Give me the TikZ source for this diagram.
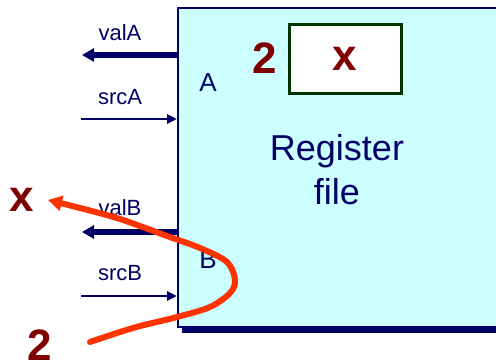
\documentclass[tikz,border=0pt]{standalone}
\usepackage{fontspec}
\setmainfont{Liberation Sans}
\usetikzlibrary{arrows.meta,positioning,calc}
\definecolor{navy}{RGB}{0,0,102}
\definecolor{rfcyan}{RGB}{204,255,255}
\definecolor{darkred}{RGB}{128,0,0}
\definecolor{darkgreen}{RGB}{0,51,0}
\definecolor{hotred}{RGB}{255,51,0}

\begin{document}
\begin{tikzpicture}[x=1pt,y=-1pt,>=Latex,every node/.style={inner sep=0pt,text=navy}]
\tikzstyle{rf}=[draw=navy,line width=1.5pt,fill=rfcyan,minimum width=400pt,minimum height=319pt,anchor=north west]
\tikzstyle{reg}=[draw=darkgreen,line width=3pt,fill=white,minimum width=112pt,minimum height=69pt]
\tikzstyle{lbl}=[font=\fontsize{22}{26}\selectfont]
\tikzstyle{port}=[font=\fontsize{26}{30}\selectfont]
\tikzstyle{big}=[font=\fontsize{44}{48}\selectfont\bfseries,text=darkred]
\tikzstyle{val}=[navy,line width=5.5pt,-{Triangle[length=12pt,width=13pt]}]
\tikzstyle{src}=[navy,line width=2.5pt,-{Triangle[length=10pt,width=9pt]}]
\tikzstyle{hot}=[hotred,line width=6pt,line cap=round,-{Triangle[length=14pt,width=15pt]}]
\useasboundingbox (0,0) rectangle (496,364);
\clip (0,0) rectangle (496,364);
% register file with its shadow
\fill[navy] (182,14) rectangle (600,333);
\node[rf] (rf) at (177,7) {};
\node[reg] (reg) at (345,58.5) {};
\node[big] (regx) at (reg) {x};
\node[big,left=10pt of reg] (regnum) {2};
\node[font=\fontsize{36}{44}\selectfont,align=center] (title) at (337,170) {Register\\file};
\node[port] (pa) at (208,83) {A};
\node[port] (pb) at (208,260) {B};
% ports
\coordinate (valAend) at (82,55);
\coordinate (srcAbeg) at (81,119);
\coordinate (valBend) at (82,232);
\coordinate (srcBbeg) at (81,296);
\draw[val] (valAend -| rf.west) -- (valAend);
\draw[src] (srcAbeg) -- (srcAbeg -| rf.west);
\draw[val] (valBend -| rf.west) -- (valBend);
\draw[src] (srcBbeg) -- (srcBbeg -| rf.west);
\node[lbl] (valA) at (120,33) {valA};
\node[lbl] (srcA) at (120,97) {srcA};
\node[lbl] (valB) at (120,208) {valB};
\node[lbl] (srcB) at (120,273) {srcB};
% read of register 2
\node[big] (outx) at (22,200) {x};
\node[big] (innum) at (40,345) {2};
\coordinate (curvebeg) at (90,342);
\coordinate (curveend) at (48,200);
\draw[hot] plot[smooth,tension=.55] coordinates {(curvebeg) (133,328) (177,317) (210,307) (230,293) (235,280) (227,262) (200,248) (167,236) (120,219) (80,208) (curveend)};
\end{tikzpicture}
\end{document}
